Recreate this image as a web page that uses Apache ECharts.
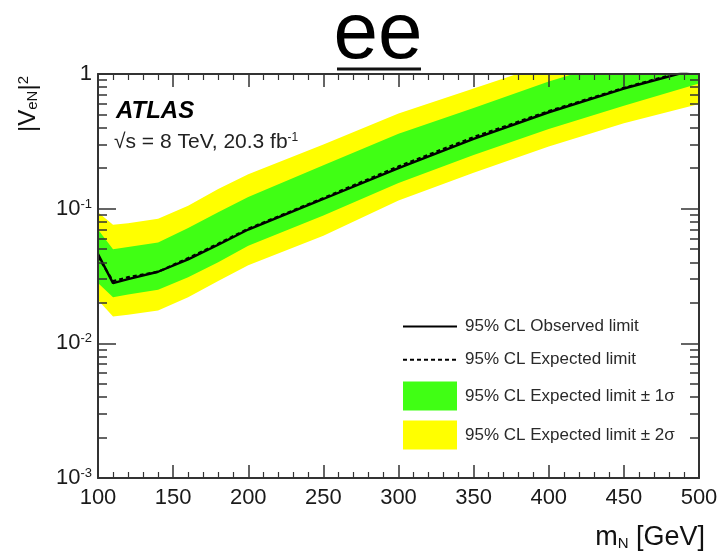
<!DOCTYPE html>
<html><head><meta charset="utf-8">
<script src="https://cdn.jsdelivr.net/npm/echarts@6/dist/echarts.min.js"></script>
<style>html,body{margin:0;padding:0;background:#fff}#c{width:725px;height:555px}</style>
</head><body><div id="c"></div>
<script>
// ---- data ----
const masses   = [100, 110, 120, 140, 160, 180, 200, 250, 300, 350, 400, 450, 500];
const observed = [0.046, 0.028, 0.030, 0.034, 0.042, 0.054, 0.070, 0.118, 0.200, 0.330, 0.520, 0.780, 1.10];
const expected = [0.044, 0.029, 0.031, 0.034, 0.043, 0.055, 0.071, 0.120, 0.206, 0.340, 0.530, 0.790, 1.12];
const plus1    = [0.070, 0.050, 0.052, 0.056, 0.072, 0.094, 0.122, 0.210, 0.360, 0.560, 0.880, 1.30, 1.80];
const minus1   = [0.028, 0.022, 0.023, 0.025, 0.031, 0.040, 0.053, 0.089, 0.155, 0.250, 0.390, 0.580, 0.850];
const plus2    = [0.094, 0.076, 0.078, 0.084, 0.105, 0.140, 0.180, 0.300, 0.510, 0.780, 1.20, 1.80, 2.50];
const minus2   = [0.021, 0.0158, 0.0163, 0.0175, 0.022, 0.029, 0.038, 0.063, 0.115, 0.185, 0.290, 0.430, 0.600];
const xTickStep = 50;
const yMajorTicks = [0.001, 0.01, 0.1, 1];
const yMinorTicks = [0.002,0.003,0.004,0.005,0.006,0.007,0.008,0.009,
                     0.02,0.03,0.04,0.05,0.06,0.07,0.08,0.09,
                     0.2,0.3,0.4,0.5,0.6,0.7,0.8,0.9];
const names = ['95% CL Observed limit', '95% CL Expected limit',
               '95% CL Expected limit \u00b1 1\u03c3', '95% CL Expected limit \u00b1 2\u03c3'];

const FONT = "'Liberation Sans', Arial, Helvetica, sans-serif";
const AX = '#333';
const GREEN = '#40ff14', YELLOW = '#ffff00';

function band(name, upper, lower, color) {
  return {
    type: 'custom', name: name, coordinateSystem: 'cartesian2d',
    xAxisIndex: 0, yAxisIndex: 0, clip: true, silent: true, z: 1,
    itemStyle: { color: color },
    data: masses.map((m, i) => [m, lower[i], upper[i]]),
    encode: { x: 0, y: [1, 2] },
    renderItem: function (params, api) {
      if (params.dataIndex !== 0) return null;
      const pts = [];
      for (let i = 0; i < masses.length; i++) pts.push(api.coord([masses[i], upper[i]]));
      for (let i = masses.length - 1; i >= 0; i--) pts.push(api.coord([masses[i], lower[i]]));
      const cs = params.coordSys;
      return { type: 'polygon', shape: { points: pts }, style: { fill: color },
               clipPath: { type: 'rect', shape: { x: cs.x, y: cs.y, width: cs.width, height: cs.height } } };
    }
  };
}

function xAx(pos, labels) {
  return {
    type: 'value', position: pos, min: 100, max: 500, interval: xTickStep,
    axisLine: { show: true, lineStyle: { color: AX, width: 2 } },
    axisTick: { show: true, inside: true, length: 13, lineStyle: { color: AX, width: 1.5 } },
    minorTick: { show: true, splitNumber: 5, length: 6, lineStyle: { color: AX, width: 1.2 } },
    splitLine: { show: false },
    axisLabel: { show: labels, margin: 9, fontSize: 22, color: '#1a1a1a', fontFamily: FONT },
    z: 5
  };
}
function yAx(pos, major, labels) {
  return {
    type: 'log', logBase: 10, position: pos, min: 0.001, max: 1,
    axisLine: { show: major, lineStyle: { color: AX, width: 2 } },
    axisTick: { show: true, inside: true, length: major ? 18 : 9,
                customValues: major ? yMajorTicks : yMinorTicks,
                lineStyle: { color: AX, width: 1.5 } },
    splitLine: { show: false },
    axisLabel: {
      show: labels, margin: 6, customValues: yMajorTicks,
      formatter: function (v) {
        if (Math.abs(v - 1) < 1e-9) return '{b|1}';
        return '{b|10}{s|' + Math.round(Math.log10(v)) + '}';
      },
      rich: {
        b: { fontSize: 22, color: '#1a1a1a', fontFamily: FONT },
        s: { fontSize: 13, color: '#1a1a1a', fontFamily: FONT, verticalAlign: 'top' }
      }
    },
    z: 5
  };
}

const chart = echarts.init(document.getElementById('c'), null, { renderer: 'canvas' });
chart.setOption({
  animation: false,
  backgroundColor: '#fff',
  grid: { left: 98, right: 26, top: 74, bottom: 77, containLabel: false },
  xAxis: [xAx('bottom', true), xAx('top', false)],
  yAxis: [yAx('left', true, true), yAx('left', false, false), yAx('right', true, false), yAx('right', false, false)],
  legend: {
    orient: 'vertical', left: 397, top: 310, itemWidth: 54, itemHeight: 29, itemGap: 10,
    selectedMode: false,
    textStyle: { fontSize: 17, color: '#2a2a2a', fontFamily: FONT, padding: [0, 0, 0, 3] },
    data: [
      { name: names[0], itemStyle: { opacity: 0 } },
      { name: names[1], itemStyle: { opacity: 0 } },
      { name: names[2], icon: 'rect' }, { name: names[3], icon: 'rect' }
    ]
  },
  series: [
    band(names[3], plus2, minus2, YELLOW),
    band(names[2], plus1, minus1, GREEN),
    { type: 'line', name: names[1], data: masses.map((m, i) => [m, expected[i]]),
      symbol: 'none', z: 3, silent: true, itemStyle: { color: '#000' },
      lineStyle: { color: '#000', width: 2.2, type: [4, 3] } },
    { type: 'line', name: names[0], data: masses.map((m, i) => [m, observed[i]]),
      symbol: 'none', z: 4, silent: true, itemStyle: { color: '#000' },
      lineStyle: { color: '#000', width: 2.4 } }
  ],
  graphic: [
    { type: 'text', x: 378, y: -4, z: 10,
      style: { text: 'ee', fontSize: 80, fontFamily: FONT, fill: '#000', align: 'center', verticalAlign: 'top' } },
    { type: 'line', z: 10, shape: { x1: 337, y1: 69, x2: 421, y2: 69 },
      style: { stroke: '#111', lineWidth: 3 } },
    { type: 'text', left: 116, top: 99, z: 10,
      style: { text: 'ATLAS', fontSize: 24, fontWeight: 'bold', fontStyle: 'italic', fontFamily: FONT, fill: '#000' } },
    { type: 'text', left: 114, top: 132, z: 10,
      style: { text: '{a|\u221As = 8 TeV, 20.3 fb}{s|-1}', fontFamily: FONT, fill: '#222',
               rich: { a: { fontSize: 21, fontFamily: FONT, fill: '#222' },
                       s: { fontSize: 12, fontFamily: FONT, fill: '#222', verticalAlign: 'top' } } } },
    { type: 'text', x: 28, y: 104, rotation: Math.PI / 2, z: 10,
      style: { text: '{a||V}{b|eN}{a||}{c|2}', align: 'center', verticalAlign: 'middle', fontFamily: FONT,
               rich: { a: { fontSize: 24, fontFamily: FONT, fill: '#111' },
                       b: { fontSize: 15, fontFamily: FONT, fill: '#111', verticalAlign: 'bottom' },
                       c: { fontSize: 15, fontFamily: FONT, fill: '#111', verticalAlign: 'top' } } } },
    { type: 'text', right: 20, top: 524, z: 10,
      style: { text: '{a|m}{b|N}{a| [GeV]}', fontFamily: FONT,
               rich: { a: { fontSize: 27, fontFamily: FONT, fill: '#111' },
                       b: { fontSize: 15, fontFamily: FONT, fill: '#111', verticalAlign: 'bottom' } } } }
  ]
});
</script></body></html>
